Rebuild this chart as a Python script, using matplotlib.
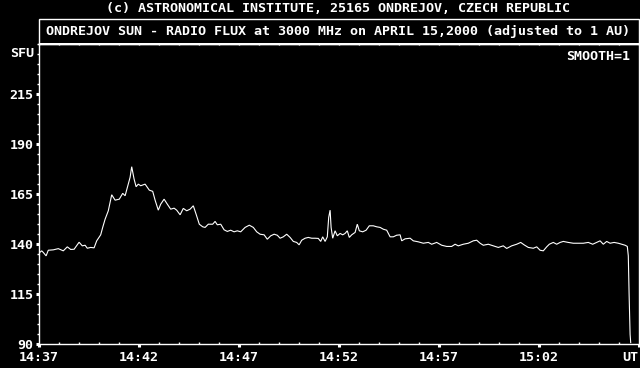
import matplotlib
matplotlib.use("Agg")
import matplotlib.pyplot as plt
from matplotlib.patches import Rectangle
from matplotlib.ticker import MultipleLocator, FixedLocator
from matplotlib.transforms import blended_transform_factory

# minutes after 14:37 UT
minutes = [0.0, 0.16, 0.24, 0.38, 0.49, 0.74, 0.99, 1.24, 1.44, 1.61, 1.78, 2.03, 2.19, 2.33, 2.44,
           2.61, 2.78, 2.91, 3.11, 3.21, 3.33, 3.49, 3.66, 3.83, 4.04, 4.21, 4.33, 4.49, 4.58, 4.66,
           4.78, 4.88, 4.99, 5.11, 5.33, 5.54, 5.71, 5.83, 5.99, 6.11, 6.28, 6.44, 6.61, 6.78, 6.91,
           7.08, 7.24, 7.41, 7.58, 7.74, 7.88, 8.04, 8.21, 8.33, 8.49, 8.71, 8.83, 8.94, 9.11, 9.28,
           9.44, 9.61, 9.78, 9.94, 10.11, 10.33, 10.54, 10.74, 10.91, 11.08, 11.28, 11.44, 11.61,
           11.78, 11.94, 12.08, 12.24, 12.41, 12.58, 12.74, 12.91, 13.03, 13.16, 13.33, 13.49, 13.66,
           13.83, 13.99, 14.11, 14.21, 14.33, 14.44, 14.51, 14.58, 14.63, 14.71, 14.83, 14.94, 15.08,
           15.21, 15.33, 15.44, 15.54, 15.66, 15.83, 15.94, 16.04, 16.21, 16.38, 16.54, 16.74, 16.91,
           17.08, 17.24, 17.41, 17.58, 17.74, 17.91, 18.08, 18.16, 18.33, 18.58, 18.74, 18.99, 19.24,
           19.49, 19.66, 19.91, 20.16, 20.41, 20.66, 20.83, 20.99, 21.24, 21.49, 21.74, 21.91, 22.08,
           22.24, 22.49, 22.74, 22.99, 23.24, 23.41, 23.66, 23.91, 24.11, 24.28, 24.49, 24.74, 24.91,
           25.08, 25.24, 25.41, 25.54, 25.74, 25.91, 26.08, 26.24, 26.49, 26.74, 26.99, 27.24, 27.49,
           27.71, 27.91, 28.08, 28.24, 28.41, 28.58, 28.78, 28.99, 29.16, 29.33, 29.44, 29.49, 29.53,
           29.58, 29.61]
flux = [135.2, 136.5, 135.7, 134.0, 136.8, 137.0, 137.6, 136.5, 138.5, 137.2, 137.3, 140.8, 139.0, 139.3, 137.8,
        138.2, 138.0, 141.5, 144.5, 148.2, 152.3, 156.5, 164.5, 161.8, 162.3, 165.2, 164.0, 169.8, 173.2, 178.5,
        172.3, 168.5, 169.8, 169.0, 169.8, 166.8, 166.2, 161.8, 156.8, 159.8, 162.3, 159.8, 157.3, 157.8, 156.8,
        154.5, 157.7, 156.5, 157.3, 159.0, 154.8, 149.8, 148.5, 148.2, 149.8, 149.8, 151.2, 149.5, 149.8, 147.0,
        146.2, 146.8, 146.0, 146.5, 146.0, 148.2, 149.3, 148.2, 146.0, 144.8, 144.5, 142.3, 144.0,
        144.8, 144.3, 142.8, 143.5, 144.8, 143.2, 141.2, 140.7, 139.5, 141.8, 142.8, 143.2, 142.8,
        142.8, 142.7, 141.2, 143.5, 141.2, 143.5, 153.2, 156.8, 148.2, 142.8, 146.5, 144.0, 145.2,
        144.5, 145.2, 146.5, 143.2, 144.5, 145.7, 149.8, 146.5, 146.0, 146.8, 149.0, 149.0, 148.5,
        148.2, 147.3, 146.8, 143.5, 143.5, 144.3, 144.5, 141.5, 142.5, 142.8, 141.5, 141.0, 140.3,
        140.7, 139.8, 140.7, 139.3, 138.7, 138.7, 139.8, 139.0, 139.8, 140.3, 141.5, 141.8, 140.3,
        139.3, 139.8, 139.0, 138.2, 139.0, 137.7, 139.0, 139.8, 140.7, 139.5, 138.2, 137.8, 138.5,
        136.8, 136.5, 138.5, 139.8, 140.7, 139.8, 140.7, 141.2, 140.7, 140.3, 140.3, 140.3, 140.7,
        139.8, 140.7, 141.5, 139.8, 141.2, 140.3, 140.7, 140.3, 139.8, 139.3, 138.7, 134.0, 114.8,
        94.8, 90.7]

x_tick_pos = [0, 5, 10, 15, 20, 25, 30]
x_tick_labels = ["14:37", "14:42", "14:47", "14:52", "14:57", "15:02", "UT"]
y_tick_pos = [90, 115, 140, 165, 190, 215]
y_tick_labels = ["90", "115", "140", "165", "190", "215"]

header = "(c) ASTRONOMICAL INSTITUTE, 25165 ONDREJOV, CZECH REPUBLIC"
title = "ONDREJOV SUN - RADIO FLUX at 3000 MHz on APRIL 15,2000 (adjusted to 1 AU)"

W, H = 640, 368
FONT = dict(family="DejaVu Sans Mono", weight="bold", size=9.6, color="white")

fig = plt.figure(figsize=(6.4, 3.68), dpi=100, facecolor="black")
ax = fig.add_axes([38.5 / W, (H - 344) / H, 600 / W, 300.5 / H], facecolor="black")

ax.plot(minutes, flux, color="white", lw=0.8, solid_joinstyle="miter")
ax.set_xlim(0, 30)
ax.set_ylim(90, 240)

for s in ax.spines.values():
    s.set_color("white")
    s.set_linewidth(1.0)

ax.xaxis.set_major_locator(FixedLocator(x_tick_pos))
ax.set_xticklabels(x_tick_labels)
ax.xaxis.set_minor_locator(MultipleLocator(1))
ax.yaxis.set_major_locator(FixedLocator(y_tick_pos))
ax.set_yticklabels(y_tick_labels)
ax.yaxis.set_minor_locator(MultipleLocator(5))

ax.tick_params(axis="x", which="major", direction="out", length=2.2, width=2.2,
               color="white", labelcolor="white", pad=2.5)
ax.tick_params(axis="x", which="minor", direction="in", length=1.6, width=1.0, color="white")
ax.tick_params(axis="y", which="major", direction="out", length=2.2, width=2.2,
               color="white", labelcolor="white", pad=1.5)
ax.tick_params(axis="y", which="minor", direction="out", length=1.2, width=1.0, color="white")
for lab in ax.get_xticklabels() + ax.get_yticklabels():
    lab.set_fontfamily(FONT["family"])
    lab.set_fontweight("bold")
    lab.set_fontsize(FONT["size"])
labs = ax.get_xticklabels()
labs[-1].set_horizontalalignment("right")
labs[-1].set_x(30)

# ticks along the top edge
top = ax.secondary_xaxis("top")
top.xaxis.set_major_locator(MultipleLocator(1))
top.tick_params(direction="in", length=1.6, width=1.0, color="white", labeltop=False)
top.spines["top"].set_visible(False)

# SFU label
trans = blended_transform_factory(ax.transAxes, ax.transData)
ax.text(-4.5 / 600, 235, "SFU", ha="right", va="center", transform=trans, **FONT)
ax.text(591.5 / 600, (344 - 57) / 300.5, "SMOOTH=1", ha="right", va="center",
        transform=ax.transAxes, **FONT)

# title box
fig.add_artist(Rectangle((38.5 / W, (H - 43.5) / H), 600 / W, 24.5 / H, fill=False,
                         ec="white", lw=1.0, transform=fig.transFigure))
fig.text(338.5 / W, (H - 31) / H, title, ha="center", va="center", **FONT)
fig.text(338 / W, (H - 8) / H, header, ha="center", va="center", **FONT)

fig.savefig("out.png", dpi=100, facecolor="black")
